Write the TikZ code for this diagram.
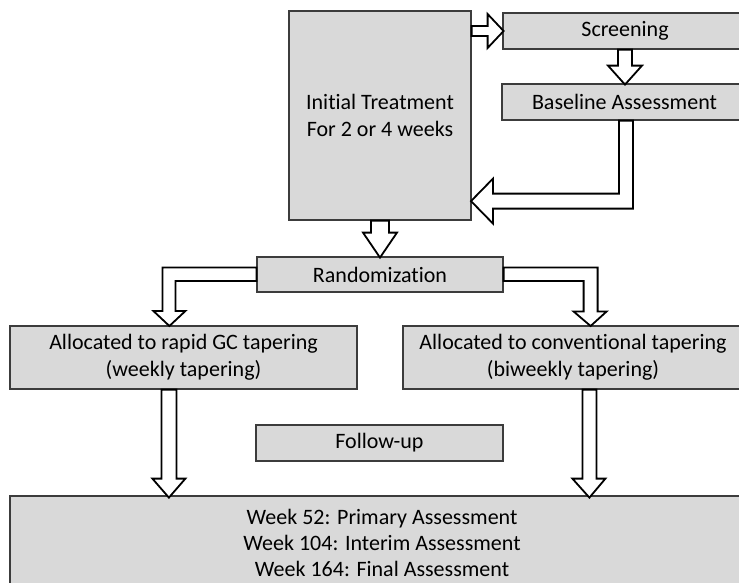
\documentclass[tikz,border=0pt]{standalone}
\usepackage{fontspec}
\setmainfont[Ligatures=NoCommon]{Carlito}
\usetikzlibrary{calc}
\definecolor{boxfill}{RGB}{217,217,217}
\definecolor{boxline}{RGB}{60,60,60}
\begin{document}
\begin{tikzpicture}[x=1pt,y=-1pt,
  box/.style={draw=boxline, fill=boxfill, line width=1.2pt, inner sep=0pt,
    align=center, font=\fontsize{22}{27}\selectfont},
  barrow/.style={draw=black, line width=1.8pt, fill=white, line join=miter}]
\clip (0,0) rectangle (739,582);
\useasboundingbox (0,0) rectangle (739,582);

\node[box, minimum width=182pt, minimum height=209pt] (init) at (380,115.5) {Initial Treatment\\For 2 or 4 weeks};
\node[box, minimum width=244pt, minimum height=36pt] (scr) at (625,31) {Screening};
\node[box, minimum width=245pt, minimum height=36pt] (base) at (624.5,102) {Baseline Assessment};
\node[box, minimum width=246pt, minimum height=35pt] (rand) at (380,274.5) {Randomization};
\node[box, minimum width=347pt, minimum height=63pt] (rapid) at (183.5,357.5) {Allocated to rapid GC tapering\\(weekly tapering)};
\node[box, minimum width=340pt, minimum height=63pt] (conv) at (573,357.5) {Allocated to conventional tapering\\(biweekly tapering)};
\node[box, minimum width=247pt, minimum height=36pt] (follow) at (379.5,443) {Follow-up};
\node[box, minimum width=744pt, minimum height=93pt, font=\fontsize{22}{26}\selectfont] (final) at (382,542.5) {Week 52: Primary Assessment\\Week 104: Interim Assessment\\Week 164: Final Assessment};

% Initial -> Screening
\draw[barrow] ($(init.east |- scr.west)+(0,-5)$) -- ++(16,0) -- ++(0,-12) -- ++(16,17)
  -- ++(-16,17) -- ++(0,-12) -- ++(-16,0) -- cycle;
% Screening -> Baseline
\draw[barrow] ($(scr.south)+(-7,0)$) -- ++(0,16) -- ++(-10,0) -- ++(17,19)
  -- ++(17,-19) -- ++(-10,0) -- ++(0,-16) -- cycle;
% Baseline -> Initial
\draw[barrow] ($(base.south)+(-5.5,0)$) -- ++(0,73) -- ++(-126,0) -- ++(0,-15) -- ++(-22,22.5)
  -- ++(22,22.5) -- ++(0,-15) -- ++(140,0) -- ++(0,-88) -- cycle;
% Initial -> Randomization
\draw[barrow] ($(init.south)+(-9,0)$) -- ++(0,12) -- ++(-8,0) -- ++(17,25)
  -- ++(17,-25) -- ++(-8,0) -- ++(0,-12) -- cycle;
% Randomization -> rapid
\draw[barrow] ($(rand.west)+(0,-7)$) -- ++(-94,0) -- ++(0,43.5) -- ++(-9,0) -- ++(16,15)
  -- ++(16,-15) -- ++(-10,0) -- ++(0,-30) -- ++(81,0) -- cycle;
% Randomization -> conventional
\draw[barrow] ($(rand.east)+(0,-7)$) -- ++(94,0) -- ++(0,44) -- ++(9,0) -- ++(-16,14.5)
  -- ++(-17,-14.5) -- ++(10,0) -- ++(0,-30.5) -- ++(-80,0) -- cycle;
% rapid -> final
\draw[barrow] ($(rapid.south west)+(152,0)$) -- ++(0,89) -- ++(-9,0) -- ++(16.5,19)
  -- ++(16.5,-19) -- ++(-9,0) -- ++(0,-89) -- cycle;
% conventional -> final
\draw[barrow] ($(conv.south west)+(180,0)$) -- ++(0,89) -- ++(-10,0) -- ++(17,19)
  -- ++(16,-19) -- ++(-9,0) -- ++(0,-89) -- cycle;
\end{tikzpicture}
\end{document}
